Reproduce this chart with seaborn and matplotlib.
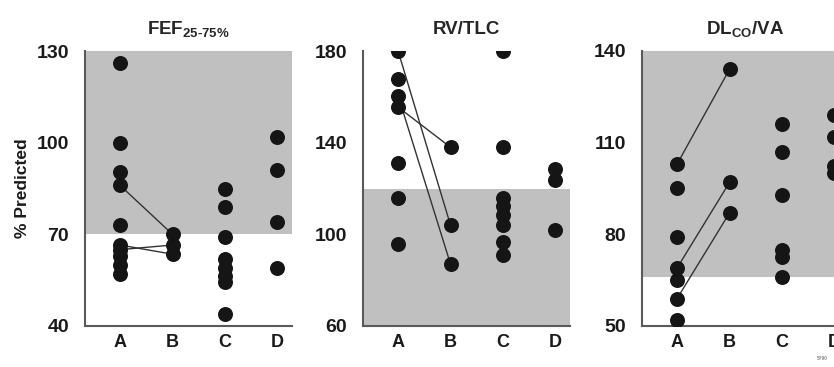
import pandas as pd
import seaborn as sns
import matplotlib.pyplot as plt

groups = ["A", "B", "C", "D"]

# FEF 25-75% (% predicted)
fef_a = [126, 100, 90.5, 86, 73, 66.5, 65, 63, 60, 57]
fef_b = [70, 66.5, 63.5]
fef_c = [85, 79, 69, 62, 59, 56.5, 54.5, 44]
fef_d = [102, 91, 74, 59]
fef_pairs = [(86, 70), (66.5, 63.5), (65, 66.5)]

# RV/TLC (% predicted)
rv_a = [180, 168, 160.5, 155.5, 131, 116, 96]
rv_b = [138, 104, 87]
rv_c = [180, 138, 116, 112.5, 108.5, 104, 96.5, 91]
rv_d = [128.5, 123.5, 102]
rv_pairs = [(180, 104), (160.5, 87), (155.5, 138)]

# DLCO/VA (% predicted)
dl_a = [103, 95, 79, 69, 65, 59, 52]
dl_b = [134, 97, 87]
dl_c = [116, 107, 93, 75, 72.5, 66]
dl_d = [119, 112, 102.5, 100]
dl_pairs = [(103, 134), (69, 97), (59, 87)]

titles = [r"FEF$_{\mathrm{25}\text{-}\mathrm{75\%}}$", "RV/TLC", r"DL$_{\mathrm{CO}}$/VA"]
ylims = [(40, 130), (60, 180), (50, 140)]
yticks = [[40, 70, 100, 130], [60, 100, 140, 180], [50, 80, 110, 140]]
normal_bands = [(70, 130), (60, 120), (66, 140)]


def make_frame(a, b, c, d):
    rows = []
    for g, vals in zip(groups, [a, b, c, d]):
        rows += [{"group": g, "value": v} for v in vals]
    return pd.DataFrame(rows)


def draw_panel(ax, df, pairs, title, ylim, ticks, band):
    x0, x1 = -0.67, 3.28
    ax.fill_between([x0, x1], band[0], band[1], color="#c0c0c0", lw=0, zorder=0)
    ia, ib = groups.index("A"), groups.index("B")
    for a, b in pairs:
        ax.plot([ia, ib], [a, b], color="#333333", lw=1.0, zorder=1)
    sns.stripplot(data=df, x="group", y="value", order=groups, jitter=False,
                  size=10.8, color="#151515", linewidth=0, ax=ax, zorder=3)
    ax.set_xlim(x0, x1)
    ax.set_ylim(*ylim)
    ax.set_yticks(ticks)
    ax.set_xlabel("")
    ax.set_ylabel("")
    ax.set_title(title, fontsize=13.5, fontweight="bold", pad=12)
    for s in ["top", "right"]:
        ax.spines[s].set_visible(False)
    for s in ["left", "bottom"]:
        ax.spines[s].set_color("#5a5a5a")
        ax.spines[s].set_linewidth(1.5)
    ax.tick_params(axis="y", length=8.5, width=1.5, color="#5a5a5a", pad=3, labelsize=14)
    ax.tick_params(axis="x", length=0, pad=6, labelsize=13)
    for lab in ax.get_xticklabels() + ax.get_yticklabels():
        lab.set_fontweight("bold")
        lab.set_color("#1a1a1a")


def main():
    sns.set_style("white")
    plt.rcParams["font.family"] = ["Liberation Sans", "DejaVu Sans"]
    plt.rcParams["font.weight"] = "bold"
    plt.rcParams["mathtext.fontset"] = "custom"
    plt.rcParams["mathtext.rm"] = "Liberation Sans:bold"
    plt.rcParams["mathtext.bf"] = "Liberation Sans:bold"

    fig = plt.figure(figsize=(8.34, 3.67), dpi=100)
    lefts = [85 / 834, 363 / 834, 642 / 834]
    w = 207 / 834
    bottom = 41 / 367
    h = 275 / 367

    frames = [make_frame(fef_a, fef_b, fef_c, fef_d),
              make_frame(rv_a, rv_b, rv_c, rv_d),
              make_frame(dl_a, dl_b, dl_c, dl_d)]
    pairs = [fef_pairs, rv_pairs, dl_pairs]

    for i in range(3):
        ax = fig.add_axes([lefts[i], bottom, w, h])
        draw_panel(ax, frames[i], pairs[i], titles[i], ylims[i], yticks[i], normal_bands[i])
        if i == 0:
            ax.set_ylabel("% Predicted", fontsize=12.5, fontweight="bold", labelpad=5,
                          color="#1a1a1a")

    fig.text(0.992, 0.018, "5790", fontsize=3.5, color="#888888", ha="right")
    fig.savefig("out.png", dpi=100)


if __name__ == "__main__":
    main()
